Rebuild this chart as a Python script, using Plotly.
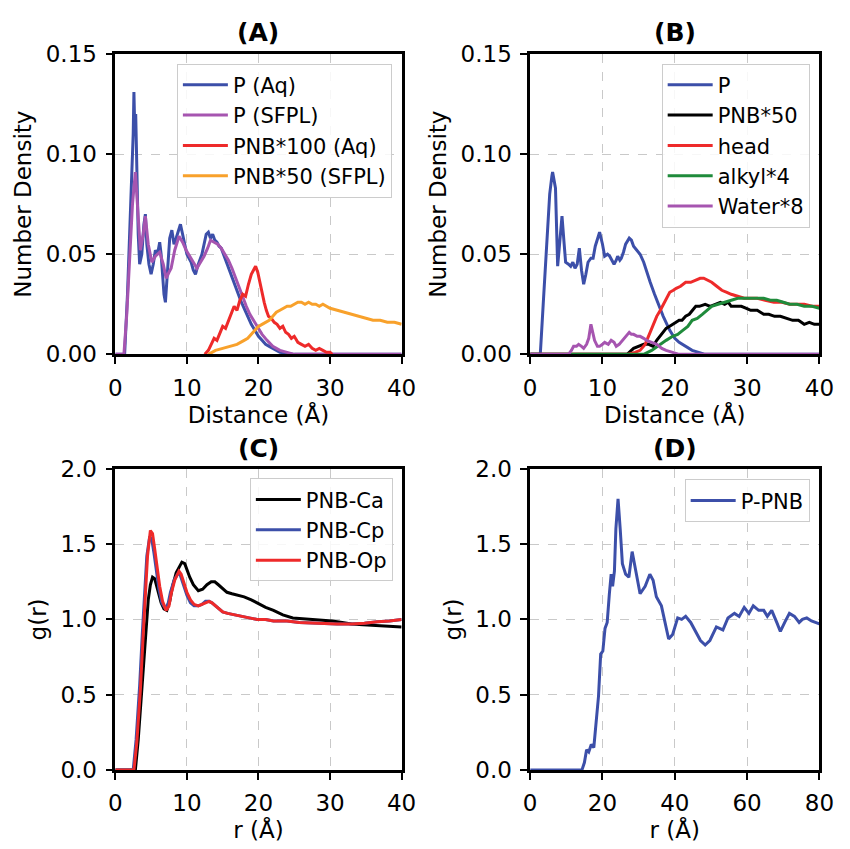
import plotly.graph_objects as go

# ---------------- Panel A data ----------------
a_p_aq_x = [0, 1.3, 1.7, 2.0, 2.3, 2.5, 2.6, 2.7, 2.85, 3.0, 3.2, 3.4, 3.7, 4.0, 4.2,
            4.4, 4.7, 5.0, 5.3, 5.6, 5.9, 6.2, 6.4, 6.6, 6.8, 7.0, 7.1, 7.3, 7.6, 7.9,
            8.2, 8.5, 8.8, 9.1, 9.4, 9.7, 10.0, 10.3, 10.6, 10.9, 11.2, 11.5, 11.8, 12.1, 12.4,
            12.7, 13.0, 13.3, 13.6, 13.9, 14.2, 14.5, 14.8, 15.1, 15.5, 16.0, 16.5, 17.0, 17.5, 18.0,
            18.5, 19.0, 19.5, 20.0, 20.5, 21.0, 21.5, 22.0, 23.0, 24.0, 25.0, 26.0, 40.0]
a_p_aq_y = [0, 0, 0.03, 0.06, 0.085, 0.11, 0.131, 0.115, 0.12, 0.09, 0.06, 0.045, 0.05, 0.065, 0.07,
            0.055, 0.045, 0.04, 0.045, 0.052, 0.05, 0.056, 0.05, 0.04, 0.03, 0.026, 0.032, 0.045, 0.058, 0.062,
            0.055, 0.058, 0.062, 0.065, 0.06, 0.055, 0.05, 0.048, 0.046, 0.042, 0.04, 0.044, 0.047, 0.05, 0.055,
            0.06, 0.061, 0.058, 0.06, 0.057, 0.056, 0.054, 0.053, 0.05, 0.047, 0.042, 0.037, 0.032, 0.027, 0.023,
            0.019, 0.015, 0.012, 0.009, 0.007, 0.005, 0.004, 0.003, 0.001, 0.0005, 0, 0, 0]

a_p_sfpl_x = [0, 1.2, 1.6, 2.0, 2.4, 2.8, 3.1, 3.5, 3.9, 4.2, 4.6, 5.1, 5.6, 6.2, 6.7, 7.1,
              7.5, 7.8, 8.3, 8.9, 9.4, 9.9, 10.4, 10.9, 11.4, 11.9, 12.4, 12.9, 13.3, 13.8, 14.3,
              14.8, 15.3, 15.8, 16.3, 16.8, 17.3, 17.8, 18.3, 18.8, 19.3, 19.8, 20.5, 21.2, 22.0, 23.0,
              24.0, 25.0, 26.0, 40.0]
a_p_sfpl_y = [0, 0, 0.02, 0.05, 0.075, 0.091, 0.075, 0.052, 0.06, 0.069, 0.055, 0.046, 0.049, 0.051, 0.045, 0.038,
              0.041, 0.043, 0.052, 0.059, 0.056, 0.052, 0.049, 0.046, 0.043, 0.046, 0.049, 0.053, 0.057, 0.056, 0.055,
              0.053, 0.050, 0.047, 0.043, 0.038, 0.033, 0.028, 0.024, 0.020, 0.017, 0.014, 0.010, 0.007, 0.004, 0.002,
              0.001, 0, 0, 0]

a_pnb_aq_x = [12.5, 13.0, 13.4, 13.8, 14.2, 14.6, 15.0, 15.4, 15.8, 16.2, 16.6, 17.0, 17.4, 17.8, 18.2,
              18.6, 19.0, 19.3, 19.6, 19.9, 20.2, 20.5, 20.8, 21.1, 21.4, 21.8, 22.2, 22.6, 23.0, 23.4,
              23.8, 24.2, 24.6, 25.0, 25.5, 26.0, 26.5, 27.0, 27.5, 28.0, 28.5, 29.0, 29.5, 30.0, 30.3]
a_pnb_aq_y = [0, 0.002, 0.005, 0.008, 0.007, 0.011, 0.014, 0.013, 0.017, 0.02, 0.024, 0.022, 0.027, 0.03, 0.029,
              0.035, 0.04, 0.042, 0.044, 0.041, 0.036, 0.03, 0.026, 0.022, 0.019, 0.018, 0.016, 0.015, 0.013, 0.014,
              0.011, 0.01, 0.008, 0.009, 0.006, 0.005, 0.004, 0.005, 0.003, 0.002, 0.003, 0.002, 0.001, 0.001, 0]

a_pnb_sfpl_x = [13, 14, 15, 16, 17, 18, 18.5, 19, 19.5, 20, 20.5, 21, 21.5, 22, 22.5,
                23, 23.5, 24, 24.5, 25, 25.5, 26, 26.5, 27, 27.5, 28, 28.5, 29, 29.5, 30,
                31, 32, 33, 34, 35, 36, 37, 38, 39, 40]
a_pnb_sfpl_y = [0, 0.002, 0.003, 0.004, 0.005, 0.007, 0.008, 0.010, 0.012, 0.014, 0.015, 0.016, 0.017, 0.019, 0.021,
                0.022, 0.023, 0.024, 0.024, 0.025, 0.026, 0.026, 0.025, 0.026, 0.025, 0.025, 0.024, 0.025, 0.024, 0.023,
                0.022, 0.021, 0.020, 0.019, 0.018, 0.017, 0.017, 0.016, 0.016, 0.015]

# ---------------- Panel B data ----------------
b_p_x = [0, 1.4, 1.8, 2.2, 2.7, 3.0, 3.1, 3.3, 3.5, 3.8, 4.1, 4.4, 4.7, 4.9, 5.3,
         5.6, 5.9, 6.2, 6.5, 6.8, 7.1, 7.4, 7.7, 8.0, 8.4, 8.7, 9.0, 9.3, 9.6, 10.0,
         10.3, 10.7, 11.0, 11.3, 11.6, 11.9, 12.1, 12.4, 12.6, 12.9, 13.2, 13.7, 14.0, 14.3, 14.7,
         15.2, 15.7, 16.1, 16.6, 17.2, 17.8, 18.4, 19.3, 20.0, 20.6, 21.5, 22.4, 24.2, 40]
b_p_y = [0, 0, 0.025, 0.051, 0.08, 0.089, 0.091, 0.087, 0.083, 0.044, 0.055, 0.069, 0.055, 0.046, 0.045,
         0.044, 0.046, 0.043, 0.045, 0.053, 0.042, 0.035, 0.04, 0.046, 0.048, 0.048, 0.054, 0.058, 0.061, 0.055,
         0.049, 0.050, 0.049, 0.047, 0.045, 0.047, 0.049, 0.047, 0.048, 0.051, 0.055, 0.058, 0.057, 0.054, 0.052,
         0.050, 0.046, 0.041, 0.036, 0.030, 0.024, 0.019, 0.012, 0.008, 0.006, 0.004, 0.002, 0, 0]

b_pnb_x = [0, 13.4, 14.3, 15.0, 15.7, 16.4, 17.0, 17.5, 17.9, 18.4, 18.8, 19.3, 19.7, 20.2, 20.6,
           21.0, 21.5, 22.0, 22.5, 22.9, 23.4, 24.2, 24.9, 25.6, 26.3, 26.9, 27.4, 27.8, 28.5, 29.2,
           29.9, 30.5, 31.4, 32.3, 33.0, 33.8, 34.6, 35.5, 36.3, 37.1, 37.9, 38.6, 39.3, 40.0]
b_pnb_y = [0, 0, 0.003, 0.004, 0.005, 0.005, 0.004, 0.007, 0.009, 0.011, 0.013, 0.014, 0.015, 0.016, 0.017,
           0.017, 0.019, 0.020, 0.022, 0.024, 0.024, 0.025, 0.024, 0.025, 0.026, 0.025, 0.026, 0.024, 0.024, 0.024,
           0.023, 0.022, 0.022, 0.020, 0.020, 0.019, 0.019, 0.018, 0.017, 0.017, 0.015, 0.016, 0.015, 0.015]

b_head_x = [0, 13.4, 14.5, 15.2, 15.9, 16.6, 17.1, 17.5, 18.0, 18.4, 18.9, 19.3, 19.8, 20.2, 20.8,
            21.5, 22.2, 22.9, 23.5, 24.0, 24.5, 25.1, 25.8, 26.5, 27.2, 27.8, 28.7, 29.6, 30.5, 31.4,
            32.5, 33.7, 34.8, 35.9, 37.0, 37.9, 39.0, 40.0]
b_head_y = [0, 0, 0.001, 0.002, 0.005, 0.011, 0.015, 0.019, 0.022, 0.025, 0.028, 0.031, 0.032, 0.033, 0.034,
            0.036, 0.036, 0.037, 0.038, 0.038, 0.037, 0.036, 0.034, 0.032, 0.031, 0.030, 0.029, 0.028, 0.028, 0.028,
            0.027, 0.026, 0.026, 0.025, 0.025, 0.025, 0.024, 0.024]

b_alkyl_x = [0, 15.7, 16.8, 17.9, 18.8, 19.7, 20.4, 21.1, 21.8, 22.4, 23.1, 23.8, 24.5, 25.1, 26.0,
             26.9, 27.8, 28.7, 29.6, 30.5, 31.4, 32.3, 33.2, 34.1, 35.0, 35.9, 36.9, 37.9, 39.0, 40.0]
b_alkyl_y = [0, 0, 0.002, 0.005, 0.007, 0.009, 0.010, 0.012, 0.014, 0.017, 0.018, 0.020, 0.022, 0.024, 0.025,
             0.026, 0.027, 0.028, 0.028, 0.028, 0.028, 0.028, 0.027, 0.027, 0.026, 0.025, 0.025, 0.024, 0.024, 0.023]

b_water_x = [0, 5.3, 5.7, 6.0, 6.4, 6.7, 7.1, 7.4, 7.8, 8.1, 8.4, 8.6, 8.9, 9.3, 9.6,
             10.0, 10.3, 10.8, 11.2, 11.6, 11.9, 12.3, 12.8, 13.2, 13.7, 14.0, 14.3, 14.8, 15.2, 15.7,
             16.1, 16.8, 17.5, 18.2, 18.8, 19.7, 20.6, 40.0]
b_water_y = [0, 0, 0.002, 0.004, 0.004, 0.005, 0.004, 0.003, 0.005, 0.008, 0.015, 0.012, 0.007, 0.004, 0.004,
             0.005, 0.006, 0.005, 0.007, 0.006, 0.004, 0.005, 0.007, 0.009, 0.011, 0.010, 0.010, 0.009, 0.009, 0.008,
             0.007, 0.006, 0.005, 0.003, 0.002, 0.001, 0, 0]

# ---------------- Panel C data ----------------
c_ca_x = [0, 2.8, 3.2, 3.7, 4.2, 4.6, 4.9, 5.2, 5.5, 5.8, 6.1, 6.4, 6.8, 7.2, 7.6,
          8.0, 8.5, 8.9, 9.3, 9.7, 10.0, 10.4, 10.9, 11.6, 12.2, 12.8, 13.4, 13.9, 14.4, 14.9,
          15.6, 16.3, 17.2, 18.0, 19.0, 19.8, 21.0, 22.1, 23.4, 24.8, 26.2, 27.5, 29.0, 30.3, 31.7,
          33.0, 34.6, 36.2, 38.0, 40.0]
c_ca_y = [0, 0, 0.2, 0.53, 0.9, 1.13, 1.23, 1.28, 1.27, 1.22, 1.16, 1.11, 1.07, 1.06, 1.12,
          1.22, 1.31, 1.35, 1.38, 1.37, 1.33, 1.28, 1.23, 1.19, 1.2, 1.23, 1.25, 1.25, 1.23, 1.21,
          1.18, 1.17, 1.16, 1.15, 1.13, 1.11, 1.08, 1.06, 1.03, 1.01, 1.005, 1.0, 0.995, 0.99, 0.98,
          0.97, 0.965, 0.96, 0.955, 0.95]

c_cp_x = [0, 2.5, 2.9, 3.4, 3.8, 4.1, 4.4, 4.8, 5.1, 5.4, 5.8, 6.1, 6.5, 7.0, 7.4,
          7.7, 8.2, 8.8, 9.1, 9.5, 10.0, 10.5, 11.0, 11.6, 12.1, 12.6, 13.1, 13.5, 14.0, 14.4,
          15.0, 15.7, 16.6, 17.6, 18.7, 19.8, 21.0, 22.1, 24.0, 25.7, 27.5, 29.3, 31.0, 33.0, 34.8,
          36.6, 38.3, 40.0]
c_cp_y = [0, 0, 0.2, 0.56, 0.93, 1.2, 1.42, 1.55, 1.53, 1.44, 1.3, 1.2, 1.11, 1.07, 1.11,
          1.18, 1.26, 1.31, 1.29, 1.23, 1.16, 1.11, 1.09, 1.09, 1.10, 1.12, 1.12, 1.11, 1.09, 1.07,
          1.05, 1.04, 1.03, 1.02, 1.01, 1.0, 1.0, 0.99, 0.99, 0.98, 0.975, 0.97, 0.97, 0.97, 0.975,
          0.985, 0.99, 1.0]

c_op_x = [0, 2.6, 3.0, 3.5, 3.9, 4.2, 4.5, 4.9, 5.2, 5.5, 5.9, 6.2, 6.6, 7.1, 7.5,
          7.8, 8.3, 8.9, 9.2, 9.6, 10.0, 10.5, 11.0, 11.6, 12.1, 12.6, 13.1, 13.5, 14.0, 14.4,
          15.0, 15.7, 16.6, 17.6, 18.7, 19.8, 21.0, 22.1, 24.0, 25.7, 27.5, 29.3, 31.0, 33.0, 34.8,
          36.6, 38.3, 40.0]
c_op_y = [0, 0, 0.18, 0.53, 0.9, 1.17, 1.42, 1.59, 1.57, 1.47, 1.32, 1.22, 1.12, 1.06, 1.09,
          1.17, 1.26, 1.32, 1.30, 1.24, 1.18, 1.13, 1.10, 1.09, 1.10, 1.11, 1.12, 1.11, 1.09, 1.07,
          1.05, 1.04, 1.03, 1.02, 1.01, 1.0, 1.0, 0.99, 0.99, 0.98, 0.975, 0.97, 0.97, 0.97, 0.975,
          0.985, 0.99, 1.0]

# ---------------- Panel D data ----------------
d_x = [0, 14.3, 15.0, 15.6, 16.2, 16.9, 17.6, 18.3, 18.9, 19.5, 20.1, 20.7, 21.3, 21.9, 22.4,
       22.8, 23.3, 23.7, 24.3, 24.9, 25.5, 26.4, 27.3, 28.2, 28.8, 29.5, 30.4, 31.8, 33.1, 34.0,
       34.9, 36.3, 37.2, 38.3, 39.4, 40.8, 41.9, 43.0, 44.4, 45.7, 47.1, 48.4, 49.7, 51.5, 53.3,
       54.7, 56.5, 57.8, 59.2, 60.5, 61.7, 63.2, 64.6, 65.6, 66.8, 68.2, 69.2, 70.4, 71.7, 73.1,
       74.4, 75.3, 76.5, 77.8, 79.0, 80.0]
d_y = [0, 0, 0.05, 0.135, 0.12, 0.17, 0.15, 0.32, 0.49, 0.77, 0.79, 0.94, 0.98, 1.17, 1.30,
       1.22, 1.32, 1.60, 1.80, 1.60, 1.37, 1.30, 1.28, 1.45, 1.37, 1.28, 1.17, 1.22, 1.30, 1.26,
       1.15, 1.09, 0.98, 0.87, 0.90, 1.01, 1.0, 1.02, 0.98, 0.92, 0.86, 0.83, 0.86, 0.95, 0.93,
       1.01, 1.04, 1.02, 1.08, 1.04, 1.09, 1.06, 1.06, 1.02, 1.06, 0.98, 0.92, 0.98, 1.04, 1.02,
       0.98, 1.0, 1.01, 0.99, 0.98, 0.97]

# ---------------- Styling ----------------
BLUE = "#3c4fa9"
PURPLE = "#a655b0"
RED = "#ee2a2a"
ORANGE = "#f8a12b"
GREEN = "#1f8b3b"
BLACK = "#000000"
FONT = "DejaVu Sans"
LW = 3

fig = go.Figure()

def add(x, y, name, color, xa, ya, legend):
    fig.add_trace(go.Scatter(x=x, y=y, name=name, mode="lines",
                             line=dict(color=color, width=LW),
                             xaxis=xa, yaxis=ya, legend=legend))

add(a_p_aq_x, a_p_aq_y, "P (Aq)", BLUE, "x", "y", "legend")
add(a_p_sfpl_x, a_p_sfpl_y, "P (SFPL)", PURPLE, "x", "y", "legend")
add(a_pnb_aq_x, a_pnb_aq_y, "PNB*100 (Aq)", RED, "x", "y", "legend")
add(a_pnb_sfpl_x, a_pnb_sfpl_y, "PNB*50 (SFPL)", ORANGE, "x", "y", "legend")

add(b_p_x, b_p_y, "P", BLUE, "x2", "y2", "legend2")
add(b_pnb_x, b_pnb_y, "PNB*50", BLACK, "x2", "y2", "legend2")
add(b_head_x, b_head_y, "head", RED, "x2", "y2", "legend2")
add(b_alkyl_x, b_alkyl_y, "alkyl*4", GREEN, "x2", "y2", "legend2")
add(b_water_x, b_water_y, "Water*8", PURPLE, "x2", "y2", "legend2")

add(c_ca_x, c_ca_y, "PNB-Ca", BLACK, "x3", "y3", "legend3")
add(c_cp_x, c_cp_y, "PNB-Cp", BLUE, "x3", "y3", "legend3")
add(c_op_x, c_op_y, "PNB-Op", RED, "x3", "y3", "legend3")

add(d_x, d_y, "P-PNB", BLUE, "x4", "y4", "legend4")

# The page body has an 8px margin, so the figure is drawn 8px smaller and
# positions (given in window pixels) are shifted by that offset.
OFF = 8
W, H = 850 - OFF, 849 - OFF
def px_x(p):
    return (p - OFF) / W
def px_y(p):
    return 1 - (p - OFF) / H

colA = [px_x(111), px_x(405)]
colB = [px_x(537), px_x(834)]
rowT = [px_y(352), px_y(42)]
rowB = [px_y(781), px_y(470)]

TICKFONT = dict(family=FONT, size=23, color="black")
def axis(domain, rng, tickvals, fmt, title, anchor, standoff):
    return dict(domain=domain, range=rng, tickvals=tickvals, tickformat=fmt,
                showline=True, linewidth=2.5, linecolor="black", mirror=True,
                ticks="outside", ticklen=7, tickwidth=2, tickcolor="black",
                ticklabelstandoff=4,
                showgrid=True, gridcolor="#c9c9c9", griddash="dash", gridwidth=1,
                zeroline=False, tickfont=TICKFONT, anchor=anchor,
                title=dict(text=title, font=dict(family=FONT, size=23, color="black"),
                           standoff=standoff))

XT = [0, 10, 20, 30, 40]
fig.update_layout(
    width=W, height=H, margin=dict(l=0, r=0, t=0, b=0),
    paper_bgcolor="white", plot_bgcolor="white",
    font=dict(family=FONT, color="black"),
    xaxis=axis(colA, [0, 40], XT, "d", "Distance (Å)", "y", 6),
    yaxis=axis(rowT, [0, 0.15], [0, 0.05, 0.10, 0.15], ".2f", "Number Density", "x", 8),
    xaxis2=axis(colB, [0, 40], XT, "d", "Distance (Å)", "y2", 6),
    yaxis2=axis(rowT, [0, 0.15], [0, 0.05, 0.10, 0.15], ".2f", "Number Density", "x2", 8),
    xaxis3=axis(colA, [0, 40], XT, "d", "r (Å)", "y3", 6),
    yaxis3=axis(rowB, [0, 2.0], [0, 0.5, 1.0, 1.5, 2.0], ".1f", "g(r)", "x3", 8),
    xaxis4=axis(colB, [0, 80], [0, 20, 40, 60, 80], "d", "r (Å)", "y4", 6),
    yaxis4=axis(rowB, [0, 2.0], [0, 0.5, 1.0, 1.5, 2.0], ".1f", "g(r)", "x4", 8),
)

LEG = dict(bgcolor="rgba(255,255,255,0.85)", bordercolor="#cccccc", borderwidth=1,
           font=dict(family=FONT, size=21, color="black"), xanchor="right", yanchor="top",
           itemwidth=45)
fig.update_layout(
    legend=dict(LEG, x=px_x(395), y=px_y(52)),
    legend2=dict(LEG, x=px_x(824), y=px_y(52)),
    legend3=dict(LEG, x=px_x(396), y=px_y(480)),
    legend4=dict(LEG, x=px_x(824), y=px_y(481)),
)

titles = [("(A)", sum(colA) / 2, px_y(20)), ("(B)", sum(colB) / 2, px_y(20)),
          ("(C)", sum(colA) / 2, px_y(449)), ("(D)", sum(colB) / 2, px_y(449))]
for t, x, y in titles:
    fig.add_annotation(text="<b>%s</b>" % t, x=x, y=y, xref="paper", yref="paper",
                       showarrow=False, font=dict(family=FONT, size=25, color="black"),
                       xanchor="center", yanchor="middle")

fig.write_html("out.html")
